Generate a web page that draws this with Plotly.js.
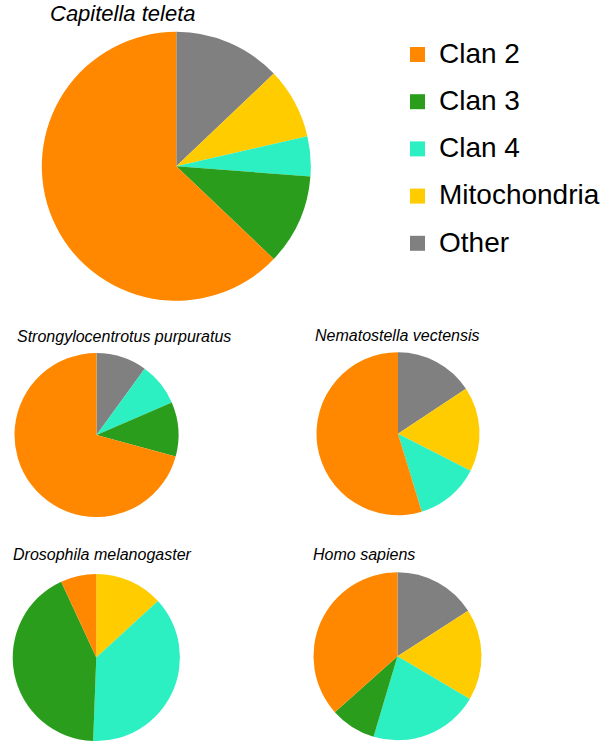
<!DOCTYPE html>
<html>
<head>
<meta charset="utf-8">
<script src="https://cdn.plot.ly/plotly-3.0.1.min.js"></script>
<style>html,body{margin:0;padding:0;background:#fff;}#chart{width:613px;height:752px;}</style>
</head>
<body>
<div id="chart"></div>
<script>
// categories (legend order)
const categories = ["Clan 2", "Clan 3", "Clan 4", "Mitochondria", "Other"];
const colors = ["#ff8800", "#2a9e1c", "#2cefc2", "#ffcc00", "#808080"];

// percentages (null = absent)
const species = ["Capitella teleta", "Strongylocentrotus purpuratus", "Nematostella vectensis", "Drosophila melanogaster", "Homo sapiens"];
const capitella = [62.9, 10.9, 4.8, 8.5, 12.9];
const strongylocentrotus = [70.8, 10.7, 8.5, null, 10.0];
const nematostella = [54.7, null, 12.8, 16.8, 15.7];
const drosophila = [6.9, 42.5, 37.4, 13.2, null];
const homo = [36.6, 8.8, 21.1, 17.6, 15.9];

const W = 613, H = 752;
// pie placement in pixels: [centerX, centerY, radius]
const geom = [
  [176.3, 166.3, 134.5],
  [96.5, 435.0, 82.0],
  [398.0, 433.7, 81.5],
  [96.3, 657.5, 83.6],
  [397.5, 656.2, 84.0]
];
const series = [capitella, strongylocentrotus, nematostella, drosophila, homo];

// slices run clockwise from 12 o'clock starting with "Other"
const revLabels = categories.slice().reverse();
const revColors = colors.slice().reverse();

const traces = series.map((vals, i) => {
  const [cx, cy, r] = geom[i];
  return {
    type: "pie",
    labels: revLabels,
    values: vals.slice().reverse(),
    marker: {colors: revColors, line: {width: 0}},
    sort: false,
    direction: "clockwise",
    rotation: 0,
    textinfo: "none",
    hoverinfo: "label+percent",
    showlegend: false,
    domain: {
      x: [(cx - r) / W, (cx + r) / W],
      y: [(H - cy - r) / H, (H - cy + r) / H]
    }
  };
});

// titles: [x, y(cap centre), size]
const titlePos = [[48, 14, 22], [15, 336, 16], [313, 335, 16], [11, 554.5, 16], [311, 554.5, 16]];
const annotations = species.map((s, i) => ({
  text: "<i>" + s + "</i>",
  xref: "paper", yref: "paper",
  x: titlePos[i][0] / W, y: 1 - titlePos[i][1] / H,
  xanchor: "left", yanchor: "middle",
  showarrow: false,
  font: {family: "Arial, 'Liberation Sans', sans-serif", size: titlePos[i][2], color: "#000"}
}));

// custom legend
const shapes = [];
categories.forEach((c, i) => {
  const yc = 54.5 + i * 47.2;
  shapes.push({
    type: "rect", xref: "paper", yref: "paper",
    x0: 410 / W, x1: 425 / W,
    y0: 1 - (yc + 7.5) / H, y1: 1 - (yc - 7.5) / H,
    fillcolor: colors[i], line: {width: 0}
  });
  annotations.push({
    text: c, xref: "paper", yref: "paper",
    x: 437 / W, y: 1 - (yc - 1.2) / H,
    xanchor: "left", yanchor: "middle", showarrow: false,
    font: {family: "Arial, 'Liberation Sans', sans-serif", size: 28, color: "#000"}
  });
});

const layout = {
  width: W, height: H,
  margin: {l: 0, r: 0, t: 0, b: 0},
  paper_bgcolor: "#fff",
  plot_bgcolor: "#fff",
  showlegend: false,
  annotations: annotations,
  shapes: shapes
};

Plotly.newPlot("chart", traces, layout, {displayModeBar: false, staticPlot: true});
</script>
</body>
</html>
